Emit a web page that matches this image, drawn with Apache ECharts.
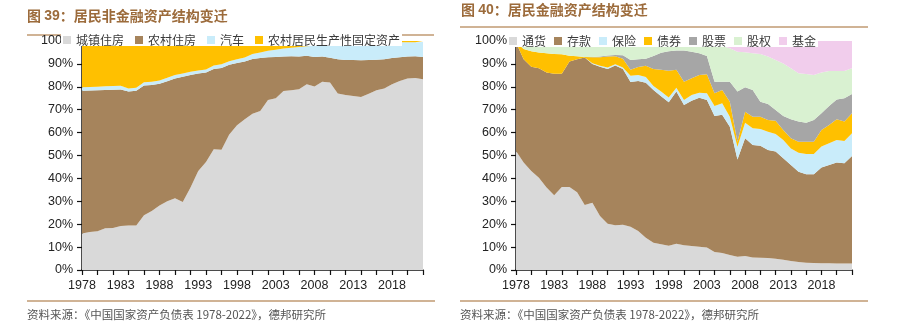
<!DOCTYPE html>
<html>
<head>
<meta charset="utf-8">
<script src="https://cdn.jsdelivr.net/npm/echarts@6/dist/echarts.min.js"></script>
<style>
  html, body { margin: 0; padding: 0; background: #fff; }
  #chart { width: 899px; height: 329px; }
</style>
</head>
<body>
<div id="chart"></div>
<script>
// Years 1978–2022
const years = [];
for (let y = 1978; y <= 2022; y++) years.push(String(y));

// 居民非金融资产结构（%）
const urbanHousing = [15.9,16.6,16.9,18.2,18.3,19.2,19.4,19.4,23.9,25.8,28.2,30.0,31.3,29.7,36.0,43.2,47.2,52.7,52.5,59.2,63.2,65.8,68.2,69.4,74.2,75.0,78.2,78.5,78.9,81.1,80.1,82.2,81.9,77.1,76.4,76.0,75.5,77.0,78.5,79.3,81.1,82.5,83.6,83.8,83.3];
const ruralHousing = [62.4,61.8,61.6,60.4,60.4,59.6,58.6,58.9,56.7,55.0,53.1,52.4,52.3,54.7,49.1,42.6,39.0,35.1,35.7,30.4,27.2,25.2,23.9,23.2,18.7,18.0,15.0,14.8,14.3,12.5,12.9,11.0,10.8,14.9,15.3,15.7,16.1,14.7,13.3,12.7,11.5,10.4,9.6,9.5,9.7];
const cars = [1.5,1.5,1.5,1.6,1.6,1.7,1.3,1.3,1.4,1.4,1.5,1.5,1.5,1.4,1.5,1.3,1.4,1.5,1.6,1.6,1.6,1.8,2.2,2.4,2.8,3.2,3.5,3.8,4.2,4.1,4.9,4.9,5.6,6.4,6.9,7.0,7.3,7.3,7.3,7.2,6.7,6.5,6.3,6.2,6.6];
const ruralProductive = [20.2,20.1,20.0,19.8,19.7,19.5,20.7,20.4,18.0,17.8,17.2,16.1,14.9,14.2,13.4,12.9,12.4,10.7,10.2,8.8,8.0,7.2,5.7,5.0,4.3,3.8,3.3,2.9,2.6,2.3,2.1,1.9,1.7,1.6,1.4,1.3,1.1,1.0,0.9,0.8,0.7,0.6,0.5,0.5,0.4];

// 居民金融资产结构（%）
const currency = [52.0,46.9,43.2,40.3,36.0,32.6,36.2,36.2,34.0,28.4,29.4,23.6,20.2,19.5,19.8,18.9,17.0,14.1,11.9,11.2,10.6,11.5,10.8,10.5,10.2,9.8,7.9,7.4,6.6,5.8,6.1,5.5,5.4,5.2,4.9,4.5,3.9,3.5,3.2,3.1,2.9,2.9,2.8,2.8,2.8];
const deposits = [47.3,45.1,45.6,47.8,50.2,53.1,49.5,54.8,58.0,64.4,60.6,65.2,67.6,69.8,68.0,63.2,65.5,67.7,66.7,64.7,62.7,66.5,61.3,63.4,65.0,64.4,59.3,60.4,56.0,42.4,51.4,49.1,48.9,47.2,46.8,44.3,42.0,39.4,38.6,38.7,41.9,43.0,44.1,43.8,47.0];
const insurance = [0,0,0,0,0,0,0,0,0,0,0.3,0.4,0.6,0.6,0.6,2.7,2.6,2.5,1.7,2.0,2.0,1.6,2.1,2.5,2.2,3.0,4.4,5.0,4.3,5.6,6.8,7.3,7.3,8.0,7.7,8.0,7.2,8.3,8.9,8.9,9.1,9.4,9.9,9.7,9.9];
const bonds = [0.3,4.5,6.7,6.9,8.4,8.6,8.5,2.6,1.3,0.2,2.6,3.7,4.8,3.4,3.8,2.7,3.5,4.9,7.5,9.5,11.7,7.9,8.0,7.3,7.8,8.3,5.6,5.8,6.6,2.2,4.8,5.0,5.3,5.1,5.8,4.3,4.4,4.8,5.3,5.3,7.2,8.0,9.0,8.5,8.7];
const stocks = [0,0,0,0,0,0,0,0,0,0,0.1,0.3,0.5,0.6,1.6,4.2,3.4,3.1,5.6,7.5,8.5,8.4,13.6,11.6,9.4,7.9,5.0,3.6,8.7,21.9,10.7,11.7,6.6,7.0,4.7,6.1,8.3,8.8,8.3,9.5,7.3,8.3,8.7,10.2,8.5];
const equity = [0.4,3.5,4.5,5.0,5.4,5.7,5.8,6.4,6.7,7.0,7.0,6.8,6.3,6.1,6.2,8.3,8.0,7.7,6.6,5.1,4.5,4.1,4.2,4.7,5.4,6.2,16.1,15.6,14.6,17.4,15.3,16.0,20.8,20.7,21.8,23.0,22.3,21.1,21.3,19.7,17.8,15.3,12.4,11.9,11.2];
const funds = [0,0,0,0,0,0,0,0,0,0,0,0,0,0,0,0,0,0,0,0,0,0,0,0,0,0.4,1.7,2.2,3.2,4.7,4.9,5.4,5.7,6.8,8.3,9.8,11.9,14.1,14.4,14.8,13.8,13.1,13.1,13.1,11.9];

const yTicks = { min: 0, max: 100, interval: 10 };

const C = {
  lightGray: '#d9d9d9', brown: '#a6845c', lightBlue: '#c9ecfa', orange: '#ffc000',
  darkGray: '#a6a6a6', lightGreen: '#d9f1d1', pink: '#f1cdec'
};

const labelFont = '"Liberation Sans", Arial, sans-serif';
const cjkFont = '"Noto Sans CJK SC", sans-serif';
const brownText = '#9c6b3b';
const ruleColor = '#c09a72';

function areaSeries(name, data, color, idx, stack) {
  return {
    name, type: 'line', data, stack, xAxisIndex: idx, yAxisIndex: idx,
    symbol: 'none', lineStyle: { width: 0 }, areaStyle: { color, opacity: 1 },
    itemStyle: { color }, emphasis: { disabled: true }, silent: true
  };
}

function xAxisCfg(idx) {
  return {
    type: 'category', gridIndex: idx, data: years, boundaryGap: false,
    axisLine: { lineStyle: { color: '#111', width: 1.5 } },
    axisTick: { interval: 1, length: 5, lineStyle: { color: '#111', width: 1.2 } },
    axisLabel: { interval: 4, margin: 9, fontSize: 12.5, color: '#222', fontFamily: labelFont },
    splitLine: { show: false }
  };
}
function yAxisCfg(idx) {
  return {
    type: 'value', gridIndex: idx, min: yTicks.min, max: yTicks.max, interval: yTicks.interval,
    axisLine: { show: true, lineStyle: { color: '#111', width: 1.5 } },
    axisTick: { show: true, length: 5, lineStyle: { color: '#111', width: 1.2 } },
    axisLabel: { formatter: '{value}%', margin: 9, fontSize: 12.5, color: '#222', fontFamily: labelFont },
    splitLine: { show: false }
  };
}
function legendCfg(names, left, top, gap) {
  return {
    data: names, left, top, orient: 'horizontal', icon: 'rect',
    itemWidth: 8, itemHeight: 8, itemGap: gap, padding: [0, 2, 0, 2],
    backgroundColor: '#fff', selectedMode: false,
    textStyle: { fontSize: 12, color: '#3a3a3a', fontFamily: cjkFont, lineHeight: 9 }
  };
}

const chart = echarts.init(document.getElementById('chart'), null, { renderer: 'canvas' });
chart.setOption({
  animation: false,
  backgroundColor: '#fff',
  title: [
    {
      text: '{a|图 }{b|39}{a|：居民非金融资产结构变迁}', left: 27, top: 8, padding: 0,
      textStyle: { rich: {
        a: { fontSize: 14, color: brownText, fontFamily: cjkFont, lineHeight: 16 },
        b: { fontSize: 14, color: brownText, fontFamily: labelFont, fontWeight: 'bold', lineHeight: 16 }
      } }
    },
    {
      text: '{a|图 }{b|40}{a|：居民金融资产结构变迁}', left: 461, top: 2, padding: 0,
      textStyle: { rich: {
        a: { fontSize: 14, color: brownText, fontFamily: cjkFont, lineHeight: 16 },
        b: { fontSize: 14, color: brownText, fontFamily: labelFont, fontWeight: 'bold', lineHeight: 16 }
      } }
    }
  ],
  legend: [
    legendCfg(['城镇住房', '农村住房', '汽车', '农村居民生产性固定资产'], 61, 34, 11),
    legendCfg(['通货', '存款', '保险', '债券', '股票', '股权', '基金'], 507, 35, 8)
  ],
  grid: [
    { left: 82, top: 41, width: 341, height: 229, containLabel: false },
    { left: 516, top: 41, width: 336, height: 229, containLabel: false }
  ],
  xAxis: [xAxisCfg(0), xAxisCfg(1)],
  yAxis: [yAxisCfg(0), yAxisCfg(1)],
  series: [
    areaSeries('城镇住房', urbanHousing, C.lightGray, 0, 'L'),
    areaSeries('农村住房', ruralHousing, C.brown, 0, 'L'),
    areaSeries('汽车', cars, C.lightBlue, 0, 'L'),
    areaSeries('农村居民生产性固定资产', ruralProductive, C.orange, 0, 'L'),
    areaSeries('通货', currency, C.lightGray, 1, 'R'),
    areaSeries('存款', deposits, C.brown, 1, 'R'),
    areaSeries('保险', insurance, C.lightBlue, 1, 'R'),
    areaSeries('债券', bonds, C.orange, 1, 'R'),
    areaSeries('股票', stocks, C.darkGray, 1, 'R'),
    areaSeries('股权', equity, C.lightGreen, 1, 'R'),
    areaSeries('基金', funds, C.pink, 1, 'R')
  ],
  graphic: [
    { type: 'line', shape: { x1: 27, y1: 35, x2: 434, y2: 35 }, style: { stroke: ruleColor, lineWidth: 1.3 } },
    { type: 'line', shape: { x1: 460, y1: 27, x2: 868, y2: 27 }, style: { stroke: ruleColor, lineWidth: 1.3 } },
    { type: 'line', shape: { x1: 27, y1: 301, x2: 435, y2: 301 }, style: { stroke: ruleColor, lineWidth: 1.3 } },
    { type: 'line', shape: { x1: 460, y1: 301, x2: 868, y2: 301 }, style: { stroke: ruleColor, lineWidth: 1.3 } },
    { type: 'text', x: 27, y: 315, style: {
        text: '资料来源：《中国国家资产负债表 1978-2022》，德邦研究所',
        fontSize: 11.5, fontFamily: cjkFont, fill: '#555', verticalAlign: 'middle' } },
    { type: 'text', x: 460, y: 315, style: {
        text: '资料来源：《中国国家资产负债表 1978-2022》，德邦研究所',
        fontSize: 11.5, fontFamily: cjkFont, fill: '#555', verticalAlign: 'middle' } }
  ]
});
</script>
</body>
</html>
